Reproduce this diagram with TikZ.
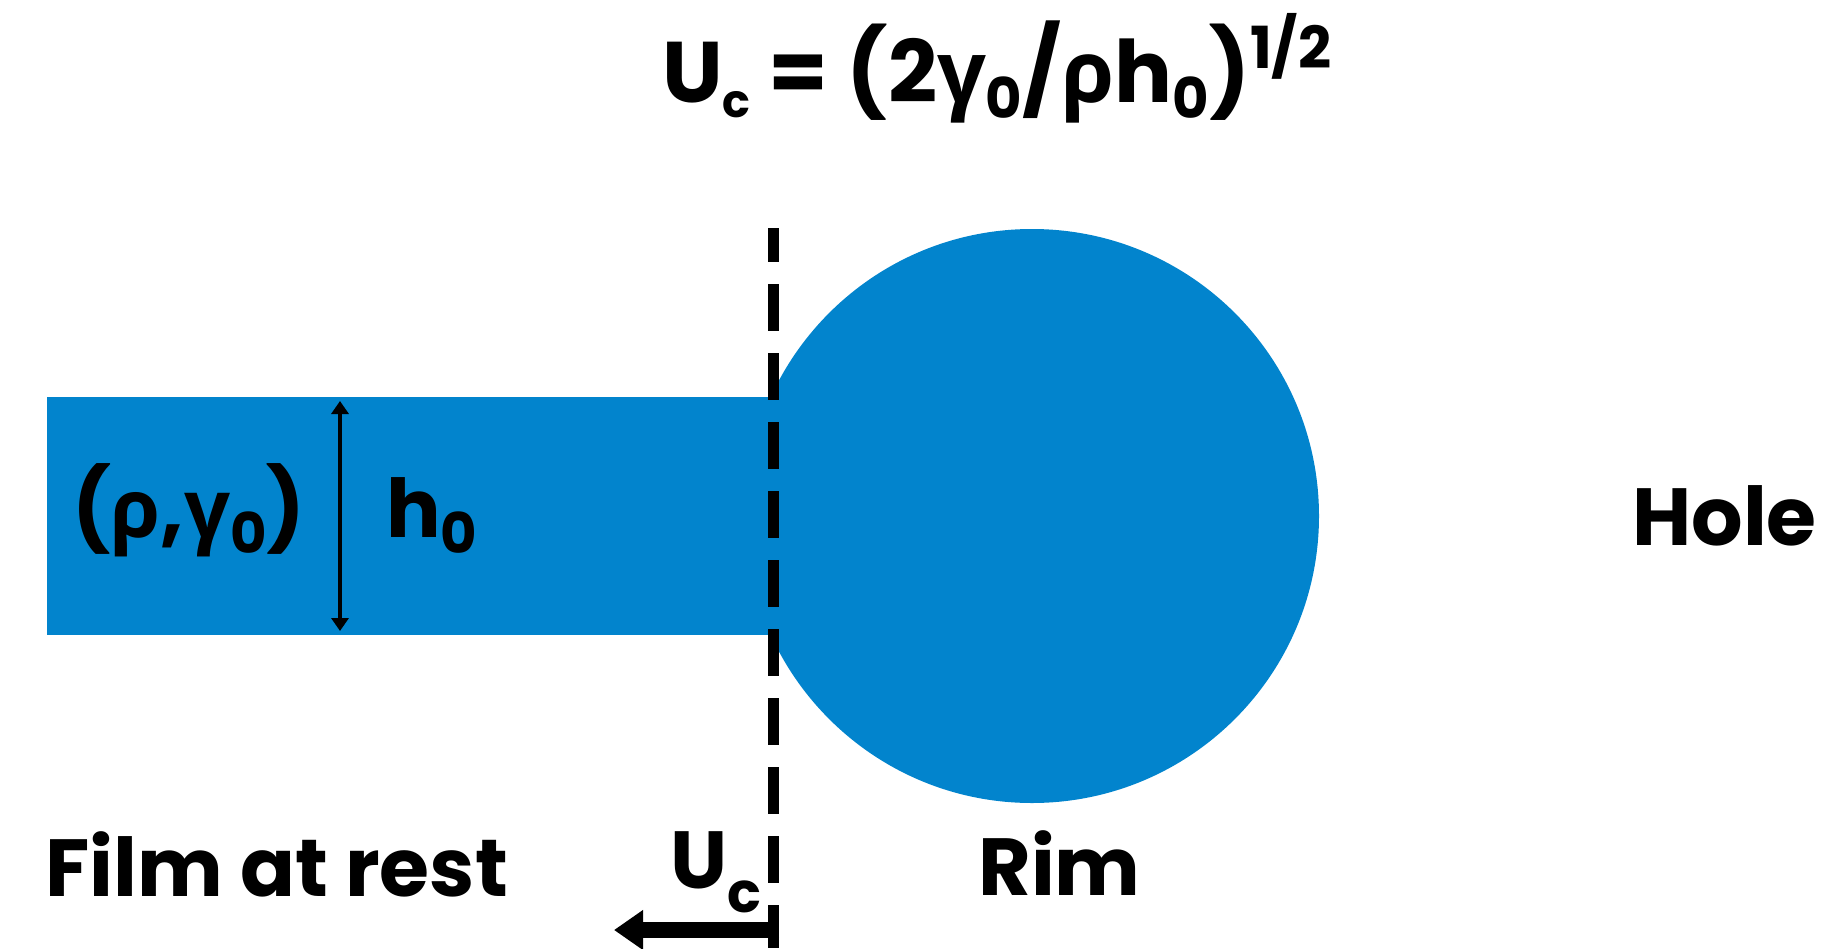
\documentclass[tikz,border=0pt]{standalone}
\usepackage{fontspec}
\setmainfont{Poppins}
\newfontfamily\grkfont{Open Sans}
\usetikzlibrary{arrows.meta}
\definecolor{filmblue}{HTML}{0284CD}
\newcommand{\grho}{{\grkfont\bfseries ρ}}
\newcommand{\ggam}{{\grkfont\bfseries γ}}
\newcommand{\sub}[2][16pt]{\raisebox{-#1}{\fontsize{56}{60}\selectfont #2}}
\newcommand{\super}[1]{\raisebox{34pt}{\fontsize{58}{60}\selectfont #1}}
\tikzset{
  figtext/.style={font=\fontsize{81}{100}\selectfont\bfseries, inner sep=0pt, anchor=base west},
  figarrow/.style={line width=4pt, {Triangle[width=17pt,length=13pt]}-{Triangle[width=17pt,length=13pt]}},
  figmove/.style={line width=16pt, -{Triangle[width=38pt,length=29pt]}},
  figfront/.style={line width=11pt, dash pattern=on 47pt off 22pt, dash phase=13pt},
}
\begin{document}
\begin{tikzpicture}[x=1pt, y=-1pt]
  \useasboundingbox (0,0) rectangle (1829,948);
  % Film und Rand
  \fill[filmblue] (47,397) rectangle (773,635);
  \fill[filmblue] (1032,516) circle[radius=287];
  % Front
  \coordinate (fronttop) at (773,228);
  \coordinate (frontbot) at (773,948);
  \draw[figfront] (fronttop) -- (frontbot);
  % Dicke
  \coordinate (htop) at (340,401);
  \coordinate (hbot) at (340,631);
  \draw[figarrow] (htop) -- (hbot);
  % Geschwindigkeit
  \coordinate (ustart) at (779,930);
  \coordinate (utip) at (614,930);
  \draw[figmove] (ustart) -- (utip);
  % Texte
  \node[figtext, font=\fontsize{86}{100}\selectfont\bfseries] (formula) at (662,102) {U{\fontsize{46}{50}\selectfont\raisebox{-15pt}{c}} = (2\ggam\sub{0}/\grho h\sub{0})\super{1/2}};
  \node[figtext] (props) at (72,537) {(\grho,\ggam\sub{0})};
  \node[figtext] (hlabel) at (386,537) {h\sub{0}};
  \node[figtext] (hole) at (1632,545) {Hole};
  \node[figtext] (film) at (45,896) {Film at rest};
  \node[figtext] (ulabel) at (670,888) {U\sub[24pt]{c}};
  \node[figtext] (rim) at (978,895) {Rim};
\end{tikzpicture}
\end{document}
